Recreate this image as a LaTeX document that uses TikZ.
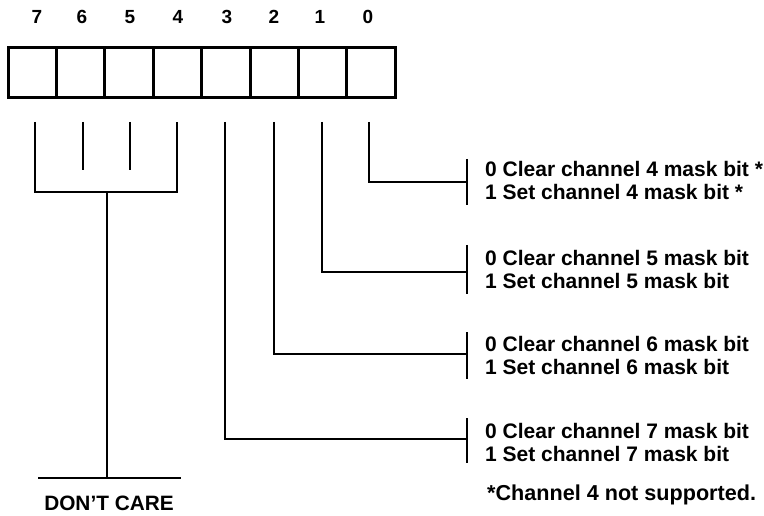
\documentclass[tikz,border=0pt]{standalone}
\usepackage{fontspec}
\setmainfont{Liberation Sans}
\begin{document}
\begin{tikzpicture}[x=1pt,y=-1pt,
  cell/.style={draw,line width=3pt,minimum width=48.4pt,minimum height=50pt,inner sep=0pt},
  bitlbl/.style={font=\bfseries\fontsize{19}{19}\selectfont,inner sep=0pt,anchor=base},
  lead/.style={line width=2.6pt},
  txt/.style={font=\bfseries\fontsize{21}{23}\selectfont,align=left,anchor=west,inner sep=0pt}]
\useasboundingbox (0,0) rectangle (764,516);
% register cells
\foreach \i/\x in {7/32.2,6/80.6,5/129,4/177.4,3/225.8,2/274.2,1/322.6,0/371}
  \node[cell] (c\i) at (\x,73) {};
% bit labels
\foreach \i/\x in {7/37,6/82,5/130,4/178,3/227,2/274,1/320,0/368}
  \node[bitlbl] (l\i) at (\x,24) {\i};
% don't care bracket
\coordinate (s7) at (35,122);
\coordinate (s6) at (83,122);
\coordinate (s5) at (130,122);
\coordinate (s4) at (177,122);
\coordinate (e6) at (83,170);
\coordinate (e5) at (130,170);
\coordinate (j) at (107,192);
\coordinate (bl) at (38,478);
\coordinate (br) at (181,478);
\draw[lead] (s7) |- (j) -| (s4);
\draw[lead] (s6) -- (e6);
\draw[lead] (s5) -- (e5);
\draw[lead] (j) -- (j |- bl);
\draw[lead] (bl) -- (br);
\node[font=\bfseries\fontsize{20.8}{21}\selectfont,inner sep=0pt] (dc) at (109,503) {DON'T CARE};
% bits 0..3
\coordinate (s0) at (369,122);
\coordinate (s1) at (322,122);
\coordinate (s2) at (274,122);
\coordinate (s3) at (225,122);
\coordinate (b0) at (467,182);
\coordinate (b1) at (467,272);
\coordinate (b2) at (467,354);
\coordinate (b3) at (467,439);
\draw[lead] (s0) |- (b0);
\draw[lead] (s1) |- (b1);
\draw[lead] (s2) |- (b2);
\draw[lead] (s3) |- (b3);
\draw[lead] (467,159) -- (467,205);
\draw[lead] (467,245) -- (467,294);
\draw[lead] (467,332) -- (467,379);
\draw[lead] (467,418) -- (467,463);
\node[txt] (t0) at (485,180) {0 Clear channel 4 mask bit *\\1 Set channel 4 mask bit *};
\node[txt] (t1) at (485,269) {0 Clear channel 5 mask bit\\1 Set channel 5 mask bit};
\node[txt] (t2) at (485,355) {0 Clear channel 6 mask bit\\1 Set channel 6 mask bit};
\node[txt] (t3) at (485,442) {0 Clear channel 7 mask bit\\1 Set channel 7 mask bit};
\node[txt,font=\bfseries\fontsize{21.6}{23}\selectfont] (fn) at (487,495) {*Channel 4 not supported.};
\end{tikzpicture}
\end{document}
